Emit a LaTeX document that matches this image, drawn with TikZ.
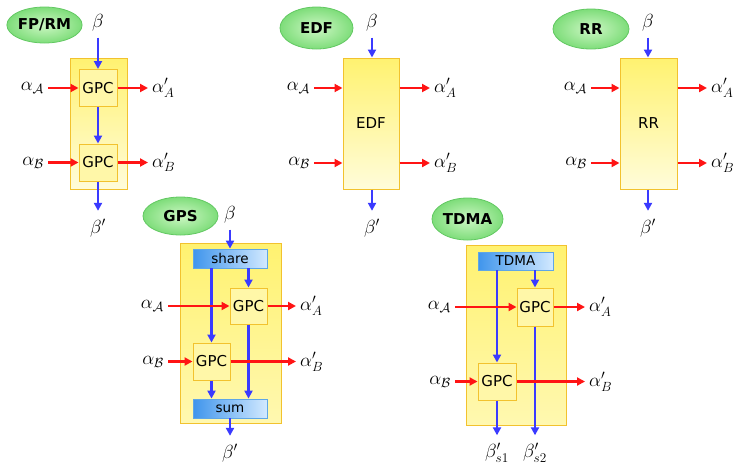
\RequirePackage{fix-cm}
\documentclass[tikz,border=0pt]{standalone}
\usepackage{fontspec}
\setsansfont{DejaVu Sans}
\usetikzlibrary{arrows.meta,shapes.geometric}
\definecolor{boxborder}{HTML}{F2C22E}
\definecolor{bigtop}{HTML}{FFF270}
\definecolor{bigbot}{HTML}{FFFCDA}
\definecolor{bigbotb}{HTML}{FFF8B0}
\definecolor{gpcfill}{HTML}{FFF7A8}
\definecolor{ellin}{HTML}{CDF7C4}
\definecolor{ellout}{HTML}{7EDD7A}
\definecolor{ellborder}{HTML}{62C862}
\definecolor{barleft}{HTML}{3F95EC}
\definecolor{barright}{HTML}{D2E9FF}
\definecolor{barborder}{HTML}{5FA6E6}
\definecolor{redarr}{HTML}{FF1414}
\definecolor{bluearr}{HTML}{3A3AFF}
\begin{document}
\begin{tikzpicture}[x=1pt,y=-1pt,
  bigbox/.style={draw=boxborder,line width=1pt,shading angle=45,top color=bigtop,bottom color=bigbot,inner sep=0pt,font=\sffamily\fontsize{15}{18}\selectfont},
  bigboxb/.style={draw=boxborder,line width=1pt,shading angle=45,top color=bigtop,bottom color=bigbotb,inner sep=0pt},
  gpc/.style={draw=boxborder,line width=1pt,fill=gpcfill,minimum width=38pt,minimum height=37pt,inner sep=0pt,font=\sffamily\fontsize{15}{18}\selectfont},
  ell/.style={ellipse,draw=ellborder,line width=0.8pt,inner color=ellin,outer color=ellout,inner sep=0pt,font=\sffamily\bfseries\fontsize{15}{18}\selectfont},
  bar/.style={draw=barborder,line width=0.8pt,left color=barleft,right color=barright,minimum width=74pt,minimum height=19pt,inner sep=0pt,font=\sffamily\fontsize{13.5}{16}\selectfont},
  ra/.style={draw=redarr,line width=2.2pt,-{Triangle[length=8pt,width=8pt]}},
  ba/.style={draw=bluearr,line width=2.2pt,-{Triangle[length=8pt,width=8pt]}},
  lab/.style={font=\fontsize{19}{23}\selectfont,inner sep=0pt}]
\useasboundingbox (0,0) rectangle (741,467);

% ---------------- FP/RM ----------------
\node[ell,minimum width=75pt,minimum height=36pt] (e1) at (44.5,25) {FP/RM};
\node[lab] (b1) at (98,23) {$\beta$};
\node[bigbox,minimum width=57pt,minimum height=131pt] (s1) at (98.5,123.5) {};
\node[gpc] (g1a) at (98,88) {GPC};
\node[gpc] (g1b) at (98,162.5) {GPC};
\node[lab,anchor=east] (i1a) at (44,88) {$\alpha_{\mathcal A}$};
\node[lab,anchor=east] (i1b) at (44,162.5) {$\alpha_{\mathcal B}$};
\node[lab,anchor=west] (o1a) at (152,88) {$\alpha'_A$};
\node[lab,anchor=west] (o1b) at (152,162.5) {$\alpha'_B$};
\node[lab] (p1) at (98,228) {$\beta'$};
\draw[ba,shorten <=6pt] (b1.south) -- (g1a);
\draw[ba] (g1a) -- (g1b);
\draw[ba,shorten >=8pt] (g1b) -- (p1.north);
\draw[ra,shorten <=4pt] (i1a) -- (g1a);
\draw[ra,shorten <=4pt] (i1b) -- (g1b);
\draw[ra,shorten >=4pt] (g1a) -- (o1a);
\draw[ra,shorten >=4pt] (g1b) -- (o1b);

% ---------------- EDF ----------------
\node[ell,minimum width=73pt,minimum height=42pt] (e2) at (316.5,28) {EDF};
\node[lab] (b2) at (372,23) {$\beta$};
\node[bigbox,minimum width=56pt,minimum height=131pt] (s2) at (371,123.5) {EDF};
\node[lab,anchor=east] (i2a) at (310,88) {$\alpha_{\mathcal A}$};
\node[lab,anchor=east] (i2b) at (310,163) {$\alpha_{\mathcal B}$};
\node[lab,anchor=west] (o2a) at (434,88) {$\alpha'_A$};
\node[lab,anchor=west] (o2b) at (434,163) {$\alpha'_B$};
\node[lab] (p2) at (372,228) {$\beta'$};
\draw[ba,shorten <=6pt] (b2.south) -- (b2.south |- s2.north);
\draw[ba,shorten >=8pt] (p2.north |- s2.south) -- (p2.north);
\draw[ra,shorten <=4pt] (i2a) -- (i2a -| s2.west);
\draw[ra,shorten <=4pt] (i2b) -- (i2b -| s2.west);
\draw[ra,shorten >=4pt] (o2a -| s2.east) -- (o2a);
\draw[ra,shorten >=4pt] (o2b -| s2.east) -- (o2b);

% ---------------- RR ----------------
\node[ell,minimum width=76pt,minimum height=40pt] (e3) at (591,29) {RR};
\node[lab] (b3) at (648,23) {$\beta$};
\node[bigbox,minimum width=57pt,minimum height=131pt] (s3) at (648.5,123.5) {RR};
\node[lab,anchor=east] (i3a) at (587,88) {$\alpha_{\mathcal A}$};
\node[lab,anchor=east] (i3b) at (587,163) {$\alpha_{\mathcal B}$};
\node[lab,anchor=west] (o3a) at (711,88) {$\alpha'_A$};
\node[lab,anchor=west] (o3b) at (711,163) {$\alpha'_B$};
\node[lab] (p3) at (648,228) {$\beta'$};
\draw[ba,shorten <=6pt] (b3.south) -- (b3.south |- s3.north);
\draw[ba,shorten >=8pt] (p3.north |- s3.south) -- (p3.north);
\draw[ra,shorten <=4pt] (i3a) -- (i3a -| s3.west);
\draw[ra,shorten <=4pt] (i3b) -- (i3b -| s3.west);
\draw[ra,shorten >=4pt] (o3a -| s3.east) -- (o3a);
\draw[ra,shorten >=4pt] (o3b -| s3.east) -- (o3b);

% ---------------- GPS ----------------
\node[ell,minimum width=75pt,minimum height=38pt] (e4) at (180.5,216) {GPS};
\node[lab] (b4) at (230,215) {$\beta$};
\node[bigboxb,minimum width=101pt,minimum height=180pt] (s4) at (230.5,333) {};
\node[bar] (sh) at (230,258.5) {share};
\node[gpc,minimum width=37pt,minimum height=36pt] (g4a) at (248.5,306) {GPC};
\node[gpc,minimum width=37pt,minimum height=37pt] (g4b) at (211.5,361.5) {GPC};
\node[bar] (sm) at (230,408.5) {sum};
\node[lab,anchor=east] (i4a) at (164,306) {$\alpha_{\mathcal A}$};
\node[lab,anchor=east] (i4b) at (164,361.5) {$\alpha_{\mathcal B}$};
\node[lab,anchor=west] (o4a) at (300,306) {$\alpha'_A$};
\node[lab,anchor=west] (o4b) at (300,361.5) {$\alpha'_B$};
\node[lab] (p4) at (230,453) {$\beta'$};
\draw[ba,shorten <=6pt] (b4.south) -- (sh);
\draw[ba] (sh.south -| g4a) -- (g4a);
\draw[ba] (sh.south -| g4b) -- (g4b);
\draw[ba] (g4a) -- (g4a |- sm.north);
\draw[ba] (g4b) -- (g4b |- sm.north);
\draw[ba,shorten >=8pt] (sm) -- (p4.north);
\draw[ra,shorten <=4pt] (i4a) -- (g4a);
\draw[ra,shorten <=4pt] (i4b) -- (g4b);
\draw[ra,shorten >=4pt] (g4a) -- (o4a);
\draw[ra,shorten >=4pt] (g4b) -- (o4b);

% ---------------- TDMA ----------------
\node[ell,minimum width=71pt,minimum height=42pt] (e5) at (467.5,219) {TDMA};
\node[bigboxb,minimum width=100pt,minimum height=180pt] (s5) at (516,335) {};
\node[bar,minimum width=75pt,minimum height=18pt] (td) at (515.5,261) {TDMA};
\node[gpc,minimum width=36pt,minimum height=38pt] (g5a) at (535,307) {GPC};
\node[gpc,minimum width=38pt,minimum height=37pt] (g5b) at (497,381.5) {GPC};
\node[lab,anchor=east] (i5a) at (451,307) {$\alpha_{\mathcal A}$};
\node[lab,anchor=east] (i5b) at (451,381.5) {$\alpha_{\mathcal B}$};
\node[lab,anchor=west] (o5a) at (589,307) {$\alpha'_A$};
\node[lab,anchor=west] (o5b) at (589,381.5) {$\alpha'_B$};
\node[lab] (p5a) at (497,453) {$\beta'_{s1}$};
\node[lab] (p5b) at (535,453) {$\beta'_{s2}$};
\draw[ba] (td.south -| g5a) -- (g5a);
\draw[ba] (td.south -| g5b) -- (g5b);
\draw[ba,shorten >=8pt] (g5a) -- (p5b.north);
\draw[ba,shorten >=8pt] (g5b) -- (p5a.north);
\draw[ra,shorten <=4pt] (i5a) -- (g5a);
\draw[ra,shorten <=4pt] (i5b) -- (g5b);
\draw[ra,shorten >=4pt] (g5a) -- (o5a);
\draw[ra,shorten >=4pt] (g5b) -- (o5b);
\end{tikzpicture}
\end{document}
